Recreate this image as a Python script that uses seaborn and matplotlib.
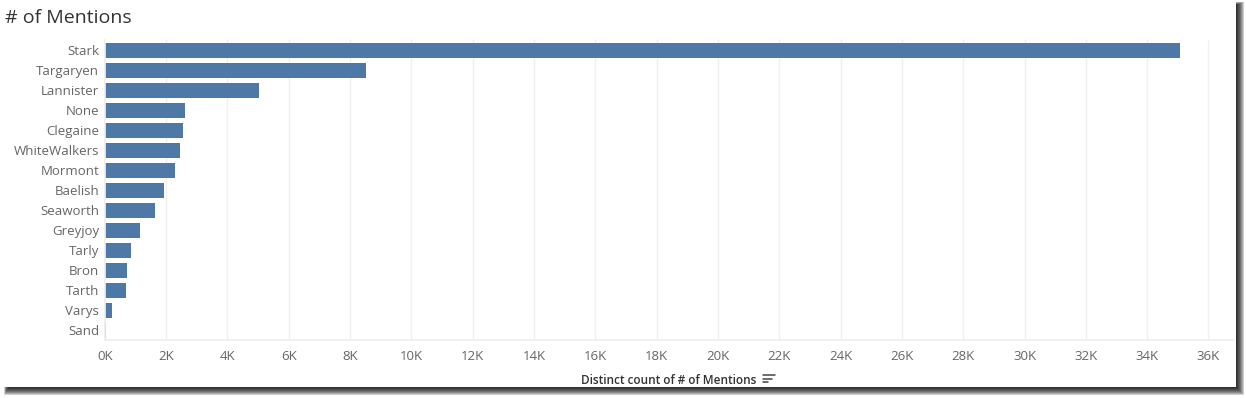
import matplotlib
matplotlib.use("Agg")
import matplotlib.pyplot as plt
import pandas as pd
import seaborn as sns
from matplotlib.lines import Line2D
from matplotlib.patches import Rectangle
from matplotlib.ticker import FuncFormatter, MultipleLocator

houses = ["Stark", "Targaryen", "Lannister", "None", "Clegaine", "WhiteWalkers",
          "Mormont", "Baelish", "Seaworth", "Greyjoy", "Tarly", "Bron", "Tarth",
          "Varys", "Sand"]
mentions = [35080, 8530, 5030, 2630, 2570, 2440, 2280, 1920, 1650, 1150, 860,
            740, 710, 250, 40]

sns.set_theme(style="white")
plt.rcParams["font.family"] = ["Open Sans", "DejaVu Sans"]

BAR_COLOR = "#4e79a7"
TEXT_COLOR = "#666666"

fig = plt.figure(figsize=(12.46, 3.98), dpi=100)
W, H = 1246, 398
fig.patch.set_facecolor("white")

# card with a soft drop shadow on the right and bottom
PANEL_R, PANEL_B = 1236, 386.7
for d in range(1, 9):
    left = 4 + (8 - d) * 0.6
    top = 2 + (8 - d) * 0.4
    fig.add_artist(Rectangle((left / W, (H - PANEL_B - d) / H),
                             (PANEL_R + d - left) / W, (PANEL_B + d - top) / H,
                             transform=fig.transFigure, facecolor="black",
                             alpha=0.18, edgecolor="none", zorder=0))
fig.add_artist(Rectangle((0, (H - PANEL_B) / H), PANEL_R / W, PANEL_B / H,
                         transform=fig.transFigure, facecolor="white",
                         edgecolor="none", zorder=1))

ax = fig.add_axes([104.7 / W, (H - 340) / H, (1233 - 104.7) / W, 300 / H])
ax.set_zorder(2)
ax.patch.set_alpha(0)

df = pd.DataFrame({"House": houses, "Mentions": mentions})
sns.barplot(data=df, x="Mentions", y="House", orient="h", color=BAR_COLOR,
            saturation=1, width=0.75, ax=ax, edgecolor="none")

ax.set_xlim(0, 36800)
ax.set_ylim(len(houses) - 0.5, -0.5)
ax.xaxis.set_major_locator(MultipleLocator(2000))
ax.xaxis.set_major_formatter(FuncFormatter(lambda v, p: f"{int(v / 1000)}K"))
ax.grid(axis="x", color="#f0f0f0", linewidth=1)
ax.set_axisbelow(True)

for s in ["top", "right"]:
    ax.spines[s].set_visible(False)
ax.spines["left"].set_color("#eeeeee")
ax.spines["bottom"].set_color("#eeeeee")

ax.tick_params(axis="both", length=0, labelsize=9.5, labelcolor=TEXT_COLOR)
ax.tick_params(axis="y", pad=4)
ax.tick_params(axis="x", pad=7)
fig.canvas.draw()
ax.get_xticklabels()[0].set_horizontalalignment("left")

ax.set_ylabel("")
ax.set_xlabel("Distinct count of # of Mentions", fontsize=8.5, color="#333333",
              fontweight="semibold", labelpad=8)

fig.text(5 / W, 1 - 18 / H, "# of Mentions", fontsize=14, color="#333333",
         va="center", ha="left")

# sort indicator next to the axis title
for k, length in enumerate([12, 9, 5]):
    y = 1 - (375 + k * 3.5) / H
    fig.add_artist(Line2D([763 / W, (763 + length) / W], [y, y],
                          transform=fig.transFigure, color="#444444",
                          linewidth=1.1, zorder=3))

fig.savefig("out.png", dpi=100)
